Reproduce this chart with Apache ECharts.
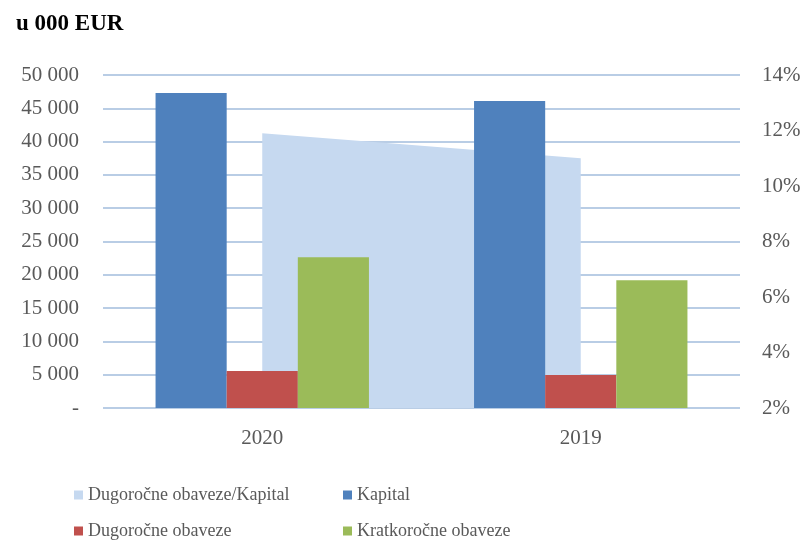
<!DOCTYPE html>
<html>
<head>
<meta charset="utf-8">
<script src="https://cdn.jsdelivr.net/npm/echarts@6/dist/echarts.min.js"></script>
<style>
  html, body { margin: 0; padding: 0; background: #fff; }
  #chart { width: 806px; height: 543px; }
</style>
</head>
<body>
<div id="chart"></div>
<script>
const years = ['2020', '2019'];
const kapital = [47300, 46100];
const dugorocne = [5550, 4950];
const kratkorocne = [22650, 19200];
const odnos = [11.9, 11.0]; // Dugoročne obaveze/Kapital, %
const legendRows = [
  ['Dugoročne obaveze/Kapital', 'Kapital'],
  ['Dugoročne obaveze', 'Kratkoročne obaveze']
];

const serif = '"Liberation Serif", "Times New Roman", serif';
const gray = '#595959';
const gridColor = '#b9cde5';

function thousands(v) {
  if (v === 0) return '-';
  return String(v).replace(/\B(?=(\d{3})+(?!\d))/g, ' ');
}

// one legend per item so the two columns line up
const legends = [];
legendRows.forEach((row, r) => {
  row.forEach((name, c) => {
    legends.push({
      left: 69 + c * 269,
      top: 481 + r * 36,
      itemWidth: 9, itemHeight: 9, itemGap: 5,
      icon: 'rect',
      textStyle: { fontFamily: serif, fontSize: 18, color: gray },
      data: [name]
    });
  });
});

const option = {
  animation: false,
  title: {
    text: 'u 000 EUR',
    left: 11,
    top: 8,
    textStyle: { fontFamily: serif, fontSize: 23, fontWeight: 'bold', color: '#000' }
  },
  grid: { left: 103, right: 66, top: 75, bottom: 135 },
  legend: legends,
  xAxis: {
    type: 'category',
    data: years,
    axisLine: { show: false },
    axisTick: { show: false },
    axisLabel: { fontFamily: serif, fontSize: 21, color: gray, margin: 20 }
  },
  yAxis: [
    {
      type: 'value',
      min: 0, max: 50000, interval: 5000,
      axisLine: { show: false },
      axisTick: { show: false },
      splitLine: { lineStyle: { color: gridColor, width: 2 } },
      axisLabel: { fontFamily: serif, fontSize: 21, color: gray, margin: 24, formatter: thousands }
    },
    {
      type: 'value',
      min: 2, max: 14, interval: 2,
      axisLine: { show: false },
      axisTick: { show: false },
      splitLine: { show: false },
      axisLabel: { fontFamily: serif, fontSize: 21, color: gray, margin: 22, formatter: v => v + '%' }
    }
  ],
  series: [
    {
      name: 'Dugoročne obaveze/Kapital',
      type: 'line',
      yAxisIndex: 1,
      data: odnos,
      symbol: 'none',
      z: 1,
      itemStyle: { color: '#c6d9f0' },
      lineStyle: { width: 0 },
      areaStyle: { color: '#c6d9f0', opacity: 1, origin: 'start' }
    },
    {
      name: 'Kapital',
      type: 'bar',
      data: kapital,
      barGap: 0,
      barCategoryGap: '33%',
      z: 3,
      itemStyle: { color: '#4f81bd' }
    },
    {
      name: 'Dugoročne obaveze',
      type: 'bar',
      data: dugorocne,
      z: 3,
      itemStyle: { color: '#c0504d' }
    },
    {
      name: 'Kratkoročne obaveze',
      type: 'bar',
      data: kratkorocne,
      z: 3,
      itemStyle: { color: '#9bbb59' }
    }
  ]
};

const chart = echarts.init(document.getElementById('chart'));
chart.setOption(option);
</script>
</body>
</html>
